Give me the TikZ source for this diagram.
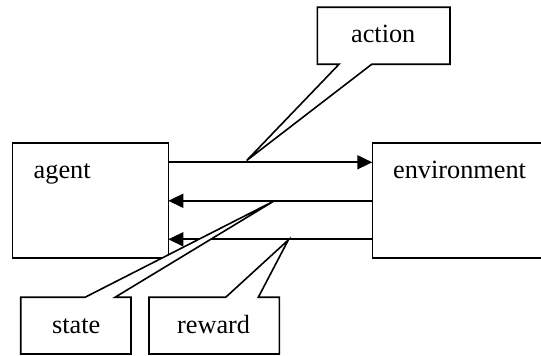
\documentclass[tikz,border=0pt]{standalone}
\usepackage{fontspec}
\setmainfont{Liberation Serif}
\usetikzlibrary{arrows.meta}
\begin{document}
\begin{tikzpicture}[x=0.5pt,y=-0.5pt,
  box/.style={draw, line width=0.8pt, inner sep=0pt, outer sep=0pt},
  lbl/.style={font=\fontsize{13.15}{15}\selectfont, anchor=base west, inner sep=0pt},
  arr/.style={line width=0.8pt, -{Triangle[length=7.5pt,width=7pt]}},
  callout/.style={draw, fill=white, line width=0.8pt, line join=miter}]
\useasboundingbox (0,0) rectangle (541,356);
\clip (0,0) rectangle (541,356);
% main boxes
\node[box, minimum width=78pt, minimum height=57.5pt] (agent) at (90.3,200.8) {};
\node[box, minimum width=95pt, minimum height=57.5pt, anchor=west] (env) at (372.3,200.8) {};
\node[lbl] (agentlbl) at (33.3,178.3) {agent};
\node[lbl] (envlbl) at (392.7,178.3) {environment};
% arrows
\draw[arr] ([yshift=19.25pt]agent.east) -- ([yshift=19.25pt]env.west);
\draw[arr] (env.west) -- (agent.east);
\draw[arr] ([yshift=-19.25pt]env.west) -- ([yshift=-19.25pt]agent.east);
% callout tips
\coordinate (atip) at (246.7,160.5);
\coordinate (stip) at (274,201);
\coordinate (rtip) at (288.3,240);
% action callout
\draw[callout] (317.3,7.3) -- (450,7.3) -- (450,64.3) -- (371.7,64.3) -- (atip) -- (339,64.3) -- (317.3,64.3) -- cycle;
\node[lbl] (action) at (350.7,42.7) {action};
% state callout
\draw[callout] (20.7,297.3) -- (85,297.3) -- (stip) -- (115,297.3) -- (131,297.3) -- (131,354) -- (20.7,354) -- cycle;
\node[lbl] (state) at (51.7,333.3) {state};
% reward callout
\draw[callout] (149,297.3) -- (225.7,297.3) -- (rtip) -- (258.3,297.3) -- (279.3,297.3) -- (279.3,354) -- (149,354) -- cycle;
\node[lbl] (reward) at (176.7,333.3) {reward};
\end{tikzpicture}
\end{document}
